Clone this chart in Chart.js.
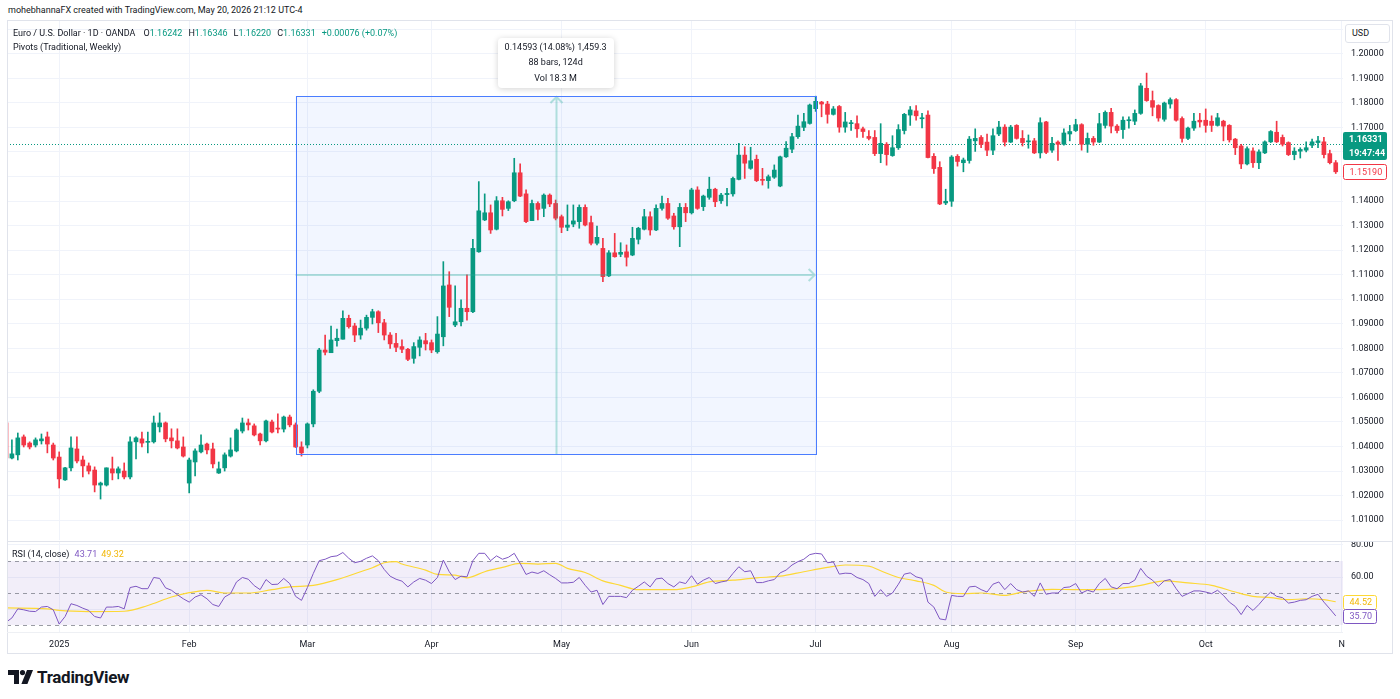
<!DOCTYPE html>
<html>
<head>
<meta charset="utf-8">
<title>EUR/USD 1D</title>
<script src="https://cdn.jsdelivr.net/npm/chart.js@4.4.1/dist/chart.umd.min.js"></script>
<style>
  html, body { margin: 0; padding: 0; background: #ffffff; }
  body { width: 1400px; height: 699px; position: relative; overflow: hidden;
         font-family: Roboto, "Noto Sans", sans-serif; color: #131722; }
  .abs { position: absolute; white-space: nowrap; z-index: 3; }
  .line { position: absolute; background: #e0e3eb; z-index: 2; }
  canvas { position: absolute; left: 0; }
  #mainChart { top: 20px; }
  #rsiChart { top: 541px; }
  #hdr { left: 8px; top: 5px; font-size: 9px; }
  #legend { left: 13px; top: 26px; font-size: 9px; line-height: 14px; }
  #legend .v { color: #089981; }
  #legend .s { margin-left: 6px; }
  #legend .f { margin-left: 8px; }
  #rsiTitle { left: 12px; top: 549px; font-size: 9px; }
  #usd { left: 1345px; top: 24px; width: 45px; height: 19px; box-sizing: border-box; border: 1px solid #e0e3eb;
         border-radius: 3px; background: #fff; font-size: 9px; line-height: 17px; padding-left: 6px; }
  #logo { left: 8px; top: 667px; font-size: 17px; font-weight: 700; display: flex; align-items: center; letter-spacing: -0.3px; }
  #logo svg { margin-right: 4px; }
</style>
</head>
<body>
<div class="abs" id="hdr"></div>
<div class="abs" id="legend"></div>
<div class="abs" id="rsiTitle"></div>
<div class="abs" id="usd">USD</div>
<div class="abs" id="logo"><svg width="25" height="14" viewBox="0 0 25 14"><path d="M0 0h11v14H6V5H0z" fill="#131722"/><circle cx="14.5" cy="2.6" r="2.6" fill="#131722"/><path d="M19 0h6l-5.6 14h-6z" fill="#131722"/></svg>TradingView</div>

<div class="line" style="left:7px;top:20px;width:1386px;height:1px"></div>
<div class="line" style="left:7px;top:20px;width:1px;height:634px"></div>
<div class="line" style="left:1392px;top:20px;width:1px;height:634px"></div>
<div class="line" style="left:7px;top:653px;width:1386px;height:1px"></div>
<div class="line" style="left:7px;top:541px;width:1386px;height:1px"></div>
<div class="line" style="left:7px;top:632px;width:1336px;height:1px;background:#eef0f4"></div>

<canvas id="mainChart" width="1400" height="521"></canvas>
<canvas id="rsiChart" width="1400" height="114"></canvas>

<script>
// EUR/USD daily bars (index 0 = first visible bar)
const open = [
  1.0496, 1.0353, 1.0366, 1.0439, 1.0414, 1.0406, 1.0423, 1.0439, 1.0406, 1.0357,
  1.0264, 1.0313, 1.0390, 1.0345, 1.0321, 1.0304, 1.0243, 1.0243, 1.0309, 1.0292,
  1.0300, 1.0276, 1.0419, 1.0431, 1.0417, 1.0419, 1.0480, 1.0496, 1.0435, 1.0423,
  1.0398, 1.0251, 1.0337, 1.0378, 1.0410, 1.0390, 1.0292, 1.0313, 1.0361, 1.0382,
  1.0463, 1.0496, 1.0484, 1.0451, 1.0423, 1.0500, 1.0475, 1.0471, 1.0520, 1.0488,
  1.0398, 1.0406, 1.0492, 1.0625, 1.0793, 1.0782, 1.0831, 1.0837, 1.0922, 1.0891,
  1.0854, 1.0882, 1.0926, 1.0949, 1.0904, 1.0854, 1.0820, 1.0807, 1.0796, 1.0759,
  1.0804, 1.0831, 1.0823, 1.0786, 1.0847, 1.1058, 1.0895, 1.0908, 1.0963, 1.0949,
  1.1193, 1.1323, 1.1352, 1.1285, 1.1401, 1.1370, 1.1401, 1.1515, 1.1429, 1.1320,
  1.1390, 1.1370, 1.1424, 1.1390, 1.1336, 1.1293, 1.1306, 1.1316, 1.1374, 1.1312,
  1.1228, 1.1207, 1.1095, 1.1189, 1.1183, 1.1193, 1.1180, 1.1244, 1.1285, 1.1336,
  1.1282, 1.1370, 1.1390, 1.1339, 1.1295, 1.1374, 1.1352, 1.1445, 1.1377, 1.1415,
  1.1448, 1.1401, 1.1426, 1.1429, 1.1488, 1.1587, 1.1533, 1.1570, 1.1488, 1.1483,
  1.1497, 1.1461, 1.1580, 1.1611, 1.1662, 1.1700, 1.1716, 1.1776, 1.1803, 1.1795,
  1.1753, 1.1785, 1.1701, 1.1715, 1.1715, 1.1694, 1.1663, 1.1659, 1.1593, 1.1631,
  1.1585, 1.1617, 1.1687, 1.1750, 1.1767, 1.1735, 1.1750, 1.1582, 1.1537, 1.1392,
  1.1399, 1.1582, 1.1556, 1.1565, 1.1645, 1.1659, 1.1640, 1.1607, 1.1673, 1.1701,
  1.1640, 1.1708, 1.1655, 1.1641, 1.1645, 1.1596, 1.1722, 1.1607, 1.1640, 1.1631,
  1.1673, 1.1687, 1.1711, 1.1631, 1.1655, 1.1640, 1.1708, 1.1761, 1.1705, 1.1691,
  1.1727, 1.1725, 1.1757, 1.1859, 1.1809, 1.1789, 1.1733, 1.1795, 1.1813, 1.1736,
  1.1655, 1.1697, 1.1729, 1.1729, 1.1725, 1.1708, 1.1725, 1.1708, 1.1652, 1.1624,
  1.1551, 1.1604, 1.1556, 1.1596, 1.1641, 1.1680, 1.1659, 1.1638, 1.1589, 1.1603,
  1.1607, 1.1627, 1.1638, 1.1641, 1.1593, 1.1556
];
const high = [
  1.0500, 1.0427, 1.0455, 1.0447, 1.0419, 1.0435, 1.0451, 1.0459, 1.0414, 1.0378,
  1.0315, 1.0439, 1.0439, 1.0361, 1.0333, 1.0317, 1.0255, 1.0313, 1.0357, 1.0317,
  1.0333, 1.0439, 1.0439, 1.0459, 1.0459, 1.0524, 1.0537, 1.0500, 1.0472, 1.0472,
  1.0439, 1.0353, 1.0390, 1.0447, 1.0414, 1.0414, 1.0337, 1.0374, 1.0435, 1.0472,
  1.0516, 1.0512, 1.0492, 1.0455, 1.0508, 1.0508, 1.0533, 1.0524, 1.0528, 1.0496,
  1.0419, 1.0496, 1.0631, 1.0800, 1.0854, 1.0891, 1.0878, 1.0953, 1.0935, 1.0902,
  1.0915, 1.0935, 1.0959, 1.0953, 1.0918, 1.0864, 1.0861, 1.0834, 1.0800, 1.0823,
  1.0847, 1.0861, 1.0834, 1.0929, 1.1153, 1.1112, 1.1054, 1.0997, 1.1099, 1.1244,
  1.1479, 1.1429, 1.1384, 1.1418, 1.1415, 1.1401, 1.1574, 1.1551, 1.1445, 1.1404,
  1.1397, 1.1429, 1.1429, 1.1404, 1.1343, 1.1384, 1.1384, 1.1384, 1.1384, 1.1339,
  1.1298, 1.1248, 1.1198, 1.1268, 1.1230, 1.1221, 1.1293, 1.1293, 1.1366, 1.1356,
  1.1384, 1.1420, 1.1411, 1.1350, 1.1390, 1.1390, 1.1452, 1.1458, 1.1424, 1.1497,
  1.1452, 1.1431, 1.1452, 1.1497, 1.1635, 1.1621, 1.1619, 1.1587, 1.1533, 1.1506,
  1.1547, 1.1583, 1.1642, 1.1676, 1.1750, 1.1757, 1.1795, 1.1827, 1.1806, 1.1806,
  1.1785, 1.1789, 1.1761, 1.1729, 1.1747, 1.1701, 1.1687, 1.1687, 1.1715, 1.1638,
  1.1666, 1.1711, 1.1757, 1.1785, 1.1789, 1.1757, 1.1767, 1.1593, 1.1560, 1.1448,
  1.1585, 1.1589, 1.1575, 1.1663, 1.1694, 1.1666, 1.1673, 1.1694, 1.1725, 1.1711,
  1.1708, 1.1711, 1.1687, 1.1669, 1.1655, 1.1739, 1.1725, 1.1659, 1.1645, 1.1694,
  1.1708, 1.1733, 1.1715, 1.1677, 1.1663, 1.1757, 1.1767, 1.1778, 1.1711, 1.1743,
  1.1743, 1.1771, 1.1879, 1.1921, 1.1848, 1.1792, 1.1803, 1.1820, 1.1817, 1.1743,
  1.1701, 1.1757, 1.1757, 1.1775, 1.1747, 1.1757, 1.1729, 1.1711, 1.1655, 1.1631,
  1.1621, 1.1617, 1.1608, 1.1645, 1.1687, 1.1725, 1.1669, 1.1641, 1.1617, 1.1617,
  1.1641, 1.1652, 1.1663, 1.1659, 1.1607, 1.1565
];
const low = [
  1.0350, 1.0349, 1.0345, 1.0398, 1.0390, 1.0398, 1.0410, 1.0374, 1.0345, 1.0231,
  1.0262, 1.0300, 1.0333, 1.0276, 1.0288, 1.0215, 1.0186, 1.0239, 1.0264, 1.0268,
  1.0268, 1.0268, 1.0349, 1.0398, 1.0374, 1.0414, 1.0459, 1.0419, 1.0394, 1.0390,
  1.0357, 1.0211, 1.0280, 1.0374, 1.0370, 1.0313, 1.0290, 1.0300, 1.0357, 1.0378,
  1.0455, 1.0467, 1.0443, 1.0406, 1.0419, 1.0455, 1.0455, 1.0459, 1.0480, 1.0396,
  1.0361, 1.0394, 1.0480, 1.0619, 1.0773, 1.0782, 1.0809, 1.0837, 1.0882, 1.0827,
  1.0837, 1.0874, 1.0899, 1.0864, 1.0834, 1.0800, 1.0786, 1.0782, 1.0750, 1.0739,
  1.0769, 1.0793, 1.0782, 1.0780, 1.0810, 1.0929, 1.0888, 1.0891, 1.0915, 1.0945,
  1.1191, 1.1320, 1.1268, 1.1282, 1.1339, 1.1361, 1.1397, 1.1418, 1.1312, 1.1320,
  1.1323, 1.1336, 1.1377, 1.1323, 1.1271, 1.1279, 1.1295, 1.1289, 1.1298, 1.1221,
  1.1221, 1.1071, 1.1092, 1.1171, 1.1173, 1.1135, 1.1177, 1.1225, 1.1282, 1.1261,
  1.1279, 1.1363, 1.1325, 1.1285, 1.1214, 1.1316, 1.1347, 1.1366, 1.1361, 1.1407,
  1.1377, 1.1390, 1.1380, 1.1420, 1.1486, 1.1492, 1.1529, 1.1479, 1.1465, 1.1452,
  1.1492, 1.1458, 1.1578, 1.1597, 1.1655, 1.1686, 1.1713, 1.1765, 1.1743, 1.1717,
  1.1750, 1.1680, 1.1680, 1.1687, 1.1659, 1.1659, 1.1649, 1.1585, 1.1556, 1.1546,
  1.1582, 1.1610, 1.1673, 1.1708, 1.1729, 1.1698, 1.1575, 1.1512, 1.1385, 1.1385,
  1.1378, 1.1542, 1.1519, 1.1554, 1.1602, 1.1617, 1.1585, 1.1589, 1.1666, 1.1624,
  1.1638, 1.1652, 1.1624, 1.1615, 1.1593, 1.1575, 1.1593, 1.1598, 1.1565, 1.1627,
  1.1645, 1.1683, 1.1607, 1.1598, 1.1627, 1.1638, 1.1697, 1.1677, 1.1677, 1.1655,
  1.1697, 1.1711, 1.1753, 1.1806, 1.1747, 1.1725, 1.1725, 1.1778, 1.1725, 1.1640,
  1.1650, 1.1687, 1.1701, 1.1680, 1.1683, 1.1705, 1.1645, 1.1640, 1.1589, 1.1532,
  1.1547, 1.1537, 1.1532, 1.1593, 1.1638, 1.1638, 1.1624, 1.1585, 1.1568, 1.1575,
  1.1600, 1.1617, 1.1617, 1.1575, 1.1551, 1.1512
];
const close = [
  1.0353, 1.0370, 1.0435, 1.0406, 1.0398, 1.0427, 1.0431, 1.0410, 1.0353, 1.0268,
  1.0313, 1.0394, 1.0341, 1.0321, 1.0300, 1.0243, 1.0251, 1.0313, 1.0292, 1.0309,
  1.0276, 1.0419, 1.0435, 1.0414, 1.0421, 1.0496, 1.0496, 1.0431, 1.0423, 1.0394,
  1.0361, 1.0345, 1.0382, 1.0406, 1.0386, 1.0329, 1.0309, 1.0366, 1.0386, 1.0467,
  1.0496, 1.0488, 1.0447, 1.0423, 1.0504, 1.0459, 1.0471, 1.0520, 1.0488, 1.0398,
  1.0374, 1.0492, 1.0625, 1.0793, 1.0784, 1.0834, 1.0841, 1.0922, 1.0888, 1.0854,
  1.0882, 1.0926, 1.0949, 1.0904, 1.0854, 1.0818, 1.0804, 1.0796, 1.0755, 1.0807,
  1.0834, 1.0818, 1.0793, 1.0858, 1.1054, 1.0967, 1.0908, 1.0963, 1.0949, 1.1207,
  1.1360, 1.1352, 1.1282, 1.1401, 1.1366, 1.1397, 1.1515, 1.1420, 1.1316, 1.1390,
  1.1366, 1.1424, 1.1388, 1.1330, 1.1293, 1.1302, 1.1319, 1.1374, 1.1302, 1.1228,
  1.1252, 1.1092, 1.1189, 1.1173, 1.1191, 1.1171, 1.1248, 1.1289, 1.1336, 1.1282,
  1.1370, 1.1390, 1.1330, 1.1295, 1.1374, 1.1352, 1.1445, 1.1370, 1.1420, 1.1448,
  1.1397, 1.1424, 1.1431, 1.1492, 1.1587, 1.1554, 1.1564, 1.1483, 1.1484, 1.1499,
  1.1526, 1.1580, 1.1615, 1.1662, 1.1705, 1.1723, 1.1791, 1.1806, 1.1795, 1.1753,
  1.1775, 1.1701, 1.1722, 1.1719, 1.1694, 1.1683, 1.1655, 1.1593, 1.1635, 1.1589,
  1.1617, 1.1691, 1.1753, 1.1771, 1.1747, 1.1738, 1.1577, 1.1532, 1.1388, 1.1399,
  1.1579, 1.1561, 1.1567, 1.1652, 1.1655, 1.1631, 1.1607, 1.1666, 1.1701, 1.1640,
  1.1701, 1.1655, 1.1638, 1.1644, 1.1596, 1.1719, 1.1598, 1.1635, 1.1631, 1.1677,
  1.1683, 1.1711, 1.1631, 1.1655, 1.1640, 1.1715, 1.1761, 1.1705, 1.1687, 1.1729,
  1.1731, 1.1757, 1.1869, 1.1809, 1.1782, 1.1738, 1.1799, 1.1813, 1.1729, 1.1655,
  1.1697, 1.1725, 1.1722, 1.1708, 1.1708, 1.1739, 1.1705, 1.1649, 1.1617, 1.1551,
  1.1613, 1.1556, 1.1600, 1.1641, 1.1683, 1.1641, 1.1631, 1.1589, 1.1603, 1.1610,
  1.1617, 1.1641, 1.1645, 1.1589, 1.1556, 1.1519
];

// RSI(14) per bar, and its moving average (sampled along the curve)
const rsi = [
  31.7, 34.4, 40.1, 39.5, 38.6, 38.4, 41.2, 41.6, 39.5, 30.6,
  35.3, 43.3, 42.2, 40.5, 39.1, 35.3, 34.4, 41.2, 41.2, 41.6,
  40.1, 53.4, 54.2, 52.7, 52.7, 59.7, 59.1, 53.2, 51.7, 48.9,
  46.4, 44.3, 47.5, 48.9, 46.4, 42.8, 41.6, 47.5, 49.6, 56.9,
  59.7, 58.6, 54.6, 52.1, 58.4, 55.3, 55.5, 59.1, 55.9, 47.9,
  45.4, 53.4, 62.2, 70.2, 71.1, 72.7, 73.2, 75.3, 71.7, 68.9,
  69.8, 71.7, 73.2, 70.2, 64.7, 60.5, 58.6, 57.4, 53.8, 56.9,
  59.1, 58.0, 55.9, 59.7, 70.6, 63.3, 58.4, 60.5, 60.1, 70.2,
  74.8, 74.8, 70.2, 73.2, 71.1, 72.3, 74.8, 68.5, 61.6, 63.1,
  62.2, 63.9, 61.4, 59.1, 56.3, 56.3, 56.7, 59.7, 54.8, 50.6,
  51.7, 42.8, 47.9, 47.9, 47.9, 47.1, 51.7, 54.2, 56.9, 53.8,
  58.8, 59.3, 55.9, 53.8, 56.9, 55.9, 60.8, 55.5, 58.0, 59.7,
  55.9, 56.9, 57.6, 62.2, 66.4, 63.3, 63.9, 56.5, 56.5, 57.6,
  58.4, 62.6, 64.3, 67.5, 69.6, 71.1, 74.0, 74.8, 74.4, 68.9,
  69.4, 61.8, 62.4, 62.2, 59.7, 58.4, 55.9, 47.9, 52.1, 47.9,
  50.0, 55.5, 61.8, 62.6, 60.1, 59.1, 44.3, 41.2, 33.8, 33.2,
  48.5, 47.9, 47.9, 53.8, 54.2, 52.1, 50.6, 55.5, 56.9, 52.1,
  55.9, 52.1, 50.6, 51.3, 47.9, 56.3, 49.2, 50.0, 50.0, 53.4,
  53.8, 55.9, 50.0, 51.7, 50.6, 55.9, 59.1, 53.8, 52.7, 55.9,
  55.9, 58.0, 65.4, 60.5, 58.0, 54.2, 57.6, 58.4, 52.7, 47.9,
  49.6, 51.3, 51.3, 50.6, 49.6, 51.7, 48.5, 44.3, 41.6, 36.5,
  42.2, 39.1, 42.8, 47.1, 50.6, 47.9, 47.1, 43.7, 44.3, 45.4,
  45.8, 47.9, 49.2, 44.3, 40.1, 35.70
];
const rsiMaIdx = [0, 7, 9, 14, 20, 24, 28, 31, 34, 37, 41, 45, 48, 52, 56, 60, 62, 64, 66, 67,
  71, 73, 76, 78, 81, 84, 87, 90, 93, 95, 98, 101, 104, 107, 110, 113, 116, 119, 123, 127,
  131, 135, 139, 142, 146, 148, 151, 154, 157, 159, 162, 165, 169, 172, 177, 181, 185, 188, 192, 196,
  200, 204, 208, 211, 214, 217, 220, 223, 225];
const rsiMa = [40.7, 40.1, 39.1, 38.4, 38.6, 42.2, 47.5, 50.2, 51.7, 50.0, 50.0, 52.1, 53.8, 54.8, 58.4, 63.3, 65.8, 68.9, 69.6, 68.1,
  64.3, 61.6, 61.2, 59.5, 63.3, 66.0, 68.5, 68.1, 68.5, 65.4, 62.8, 57.6, 54.8, 52.1, 52.1, 52.1, 53.8, 56.9, 58.0, 59.5,
  60.5, 63.3, 66.0, 67.5, 66.8, 63.9, 59.7, 57.6, 54.8, 50.6, 49.6, 50.0, 48.5, 50.6, 52.3, 52.1, 52.1, 52.7, 54.8, 57.6,
  56.3, 54.8, 50.6, 47.9, 47.1, 45.8, 46.4, 45.8, 44.52];
const rsiLevels = [70, 50, 30];

// axis ticks
const monthIdx = [9, 31, 51, 72, 94, 116, 137, 160, 181, 203, 226];
const monthLabels = ['2025', 'Feb', 'Mar', 'Apr', 'May', 'Jun', 'Jul', 'Aug', 'Sep', 'Oct', 'N'];
const priceTicks = [1.01, 1.02, 1.03, 1.04, 1.05, 1.06, 1.07, 1.08, 1.09, 1.10, 1.11,
                    1.12, 1.13, 1.14, 1.15, 1.16, 1.17, 1.18, 1.19, 1.20, 1.21];
const rsiTicks = [80, 60, 40];

// price-range measurement drawn on the chart
const measureFrom = 49, measureTo = 137;
const measureHigh = 1.18277, measureLow = 1.03684;
const measureText = ['0.14593 (14.08%) 1,459.3', '88 bars, 124d', 'Vol 18.3 M'];

// legend / last values
const legendOHLC = [['O', '1.16242'], ['H', '1.16346'], ['L', '1.16220'], ['C', '1.16331']];
const lastPrice = 1.16331, countdown = '19:47:44';
const rsiHeaderValues = ['43.71', '49.32'];

const FONT = 'Roboto, "Noto Sans", sans-serif';
const UP = '#089981', DOWN = '#F23645', GRID = '#f0f3fa';
const RSI_COL = '#7E57C2', MA_COL = '#FDD835', MA_TEXT = '#F2B705';
const X_MIN = 0.17, X_MAX = 226.23;

Chart.defaults.font.family = FONT;
Chart.defaults.font.size = 9;
Chart.defaults.color = '#131722';

// html text
document.getElementById('hdr').textContent = 'mohebhannaFX created with TradingView.com, May 20, 2026 21:12 UTC-4';
document.getElementById('legend').innerHTML =
  'Euro / U.S. Dollar · 1D · OANDA' +
  legendOHLC.map((p, k) => `<span class="${k ? 's' : 'f'}">${p[0]}<span class="v">${p[1]}</span></span>`).join('') +
  '<span class="s v">+0.00076 (+0.07%)</span><br>Pivots (Traditional, Weekly)';
document.getElementById('rsiTitle').innerHTML =
  `RSI (14, close) <span style="color:${RSI_COL};margin-left:3px">${rsiHeaderValues[0]}</span>` +
  `<span style="color:${MA_TEXT};margin-left:4px">${rsiHeaderValues[1]}</span>`;

const idx = open.map((_, i) => i);
const candleColors = idx.map(i => close[i] >= open[i] ? UP : DOWN);
const monthTicks = axis => { axis.ticks = monthIdx.map(v => ({ value: v })); };
// no automatic padding for edge labels: the plot area must be exactly the pane
const noPad = axis => { axis.paddingTop = 0; axis.paddingBottom = 0; axis.paddingLeft = 0; axis.paddingRight = 0; };

function label(ctx, x, y, w, h, fill, stroke, text, color, bold) {
  ctx.save();
  ctx.beginPath();
  ctx.roundRect(x, y, w, h, 2);
  ctx.fillStyle = fill;
  ctx.fill();
  if (stroke) { ctx.strokeStyle = stroke; ctx.lineWidth = 1; ctx.stroke(); }
  ctx.fillStyle = color;
  ctx.font = (bold ? 'bold ' : '') + '9px ' + FONT;
  ctx.textAlign = 'left';
  ctx.textBaseline = 'middle';
  text.forEach((t, k) => ctx.fillText(t, x + 6, y + h / (text.length * 2) * (2 * k + 1) + 0.5));
  ctx.restore();
}

const mainOverlay = {
  id: 'mainOverlay',
  beforeDatasetsDraw(chart) {
    const { ctx, chartArea: a, scales: { x, y } } = chart;
    const x1 = x.getPixelForValue(measureFrom), x2 = x.getPixelForValue(measureTo);
    const y1 = y.getPixelForValue(measureHigh), y2 = y.getPixelForValue(measureLow);
    ctx.save();
    ctx.fillStyle = 'rgba(41, 98, 255, 0.06)';
    ctx.fillRect(x1, y1, x2 - x1, y2 - y1);
    // last price dotted line
    const py = Math.round(y.getPixelForValue(lastPrice)) + 0.5;
    ctx.strokeStyle = UP;
    ctx.lineWidth = 1;
    ctx.setLineDash([1, 2]);
    ctx.beginPath();
    ctx.moveTo(a.left, py);
    ctx.lineTo(a.right, py);
    ctx.stroke();
    ctx.restore();
  },
  afterDatasetsDraw(chart) {
    const { ctx, scales: { x, y } } = chart;
    const x1 = x.getPixelForValue(measureFrom), x2 = x.getPixelForValue(measureTo);
    const y1 = y.getPixelForValue(measureHigh), y2 = y.getPixelForValue(measureLow);
    const mx = Math.round((x1 + x2) / 2) + 0.5, my = Math.round((y1 + y2) / 2);
    ctx.save();
    ctx.strokeStyle = 'rgba(34, 171, 148, 0.32)';
    ctx.lineWidth = 2;
    ctx.beginPath();
    ctx.moveTo(mx, y2); ctx.lineTo(mx, y1 + 1);
    ctx.moveTo(mx - 6, y1 + 7); ctx.lineTo(mx, y1 + 1); ctx.lineTo(mx + 6, y1 + 7);
    ctx.moveTo(x1, my); ctx.lineTo(x2 - 1, my);
    ctx.moveTo(x2 - 7, my - 6); ctx.lineTo(x2 - 1, my); ctx.lineTo(x2 - 7, my + 6);
    ctx.stroke();
    ctx.strokeStyle = '#4a7dff';
    ctx.lineWidth = 1;
    ctx.strokeRect(Math.round(x1) + 0.5, Math.round(y1) + 0.5, Math.round(x2 - x1), Math.round(y2 - y1));
    ctx.restore();
  },
  afterDraw(chart) {
    const { ctx, chartArea: a, scales: { x, y } } = chart;
    const mx = (x.getPixelForValue(measureFrom) + x.getPixelForValue(measureTo)) / 2;
    const top = y.getPixelForValue(measureHigh);
    const w = 116, h = 50, bx = Math.round(mx - w / 2), by = Math.round(top - 8 - h);
    ctx.save();
    ctx.shadowColor = 'rgba(0, 0, 0, 0.18)';
    ctx.shadowBlur = 6;
    ctx.shadowOffsetY = 1;
    ctx.fillStyle = '#ffffff';
    ctx.beginPath();
    ctx.roundRect(bx, by, w, h, 4);
    ctx.fill();
    ctx.shadowColor = 'transparent';
    ctx.fillStyle = '#131722';
    ctx.font = '9px ' + FONT;
    ctx.textAlign = 'center';
    ctx.textBaseline = 'middle';
    measureText.forEach((t, k) => ctx.fillText(t, mx, by + 9.5 + k * 15.5));
    ctx.restore();

    const lp = y.getPixelForValue(lastPrice);
    label(ctx, a.right, Math.round(lp) - 12, 44, 28, UP, null, [lastPrice.toFixed(5), countdown], '#ffffff', true);
    const lc = close[close.length - 1];
    const cp = y.getPixelForValue(lc);
    label(ctx, a.right + 0.5, Math.round(cp) - 7.5, 43, 15, '#ffffff', DOWN, [lc.toFixed(5)], DOWN, false);
  }
};

new Chart(document.getElementById('mainChart'), {
  type: 'bar',
  data: {
    datasets: [
      { data: idx.map(i => ({ x: i, y: [low[i], high[i]] })), backgroundColor: candleColors,
        barThickness: 1, grouped: false, order: 2 },
      { data: idx.map(i => ({ x: i, y: [open[i], close[i]] })), backgroundColor: candleColors,
        barThickness: 4, minBarLength: 1, grouped: false, order: 1 }
    ]
  },
  options: {
    responsive: false,
    animation: false,
    devicePixelRatio: 1,
    layout: { padding: { left: 7, top: 0, right: 0, bottom: 1 } },
    plugins: { legend: { display: false }, tooltip: { enabled: false } },
    scales: {
      x: {
        type: 'linear', min: X_MIN, max: X_MAX, offset: false,
        afterBuildTicks: monthTicks,
        ticks: { display: false },
        grid: { color: GRID, offset: false, drawTicks: false },
        border: { display: false },
        afterFit: axis => { axis.height = 0; noPad(axis); }
      },
      y: {
        position: 'right', min: 1.00191, max: 1.21373,
        afterBuildTicks: axis => { axis.ticks = priceTicks.map(v => ({ value: v })); },
        ticks: { padding: 8, callback: v => v.toFixed(5) },
        grid: { color: GRID, drawTicks: false },
        border: { display: false },
        afterFit: axis => { axis.width = 57; noPad(axis); }
      }
    }
  },
  plugins: [mainOverlay]
});

const rsiOverlay = {
  id: 'rsiOverlay',
  beforeDatasetsDraw(chart) {
    const { ctx, chartArea: a, scales: { y } } = chart;
    const yt = y.getPixelForValue(rsiLevels[0]), yb = y.getPixelForValue(rsiLevels[2]);
    ctx.save();
    ctx.fillStyle = 'rgba(126, 87, 194, 0.1)';
    ctx.fillRect(a.left, yt, a.right - a.left, yb - yt);
    ctx.strokeStyle = 'rgba(120, 123, 134, 0.75)';
    ctx.lineWidth = 1;
    ctx.setLineDash([4, 4]);
    rsiLevels.forEach(v => {
      const yy = Math.round(y.getPixelForValue(v)) + 0.5;
      ctx.beginPath();
      ctx.moveTo(a.left, yy);
      ctx.lineTo(a.right, yy);
      ctx.stroke();
    });
    ctx.restore();
  },
  afterDraw(chart) {
    const { ctx, chartArea: a, scales: { y } } = chart;
    const ma = rsiMa[rsiMa.length - 1], r = rsi[rsi.length - 1];
    label(ctx, a.right + 0.5, Math.round(y.getPixelForValue(ma)) - 6.5, 33, 14, '#ffffff', MA_COL, [ma.toFixed(2)], MA_TEXT, false);
    label(ctx, a.right + 0.5, Math.round(y.getPixelForValue(r)) - 6.5, 33, 14, '#ffffff', RSI_COL, [r.toFixed(2)], RSI_COL, false);
  }
};

new Chart(document.getElementById('rsiChart'), {
  type: 'line',
  data: {
    datasets: [
      { data: idx.map(i => ({ x: i, y: rsi[i] })), borderColor: RSI_COL, borderWidth: 1,
        pointRadius: 0, tension: 0, order: 1 },
      { data: rsiMaIdx.map((v, k) => ({ x: v, y: rsiMa[k] })), borderColor: MA_COL, borderWidth: 1.2,
        pointRadius: 0, cubicInterpolationMode: 'monotone', order: 2 }
    ]
  },
  options: {
    responsive: false,
    animation: false,
    devicePixelRatio: 1,
    layout: { padding: { left: 7, top: 0, right: 0, bottom: 0 } },
    plugins: { legend: { display: false }, tooltip: { enabled: false } },
    scales: {
      x: {
        type: 'linear', min: X_MIN, max: X_MAX, offset: false,
        afterBuildTicks: monthTicks,
        ticks: { autoSkip: false, maxRotation: 0, padding: 7,
                 callback: v => monthLabels[monthIdx.indexOf(v)] },
        grid: { color: GRID, offset: false, drawTicks: false },
        border: { display: false },
        afterFit: axis => { axis.height = 23; noPad(axis); }
      },
      y: {
        position: 'right', min: 25.625, max: 82.5,
        afterBuildTicks: axis => { axis.ticks = rsiTicks.map(v => ({ value: v })); },
        ticks: { padding: 8, callback: v => v.toFixed(2) },
        grid: { color: GRID, drawTicks: false },
        border: { display: false },
        afterFit: axis => { axis.width = 57; noPad(axis); }
      }
    }
  },
  plugins: [rsiOverlay]
});
</script>
</body>
</html>
